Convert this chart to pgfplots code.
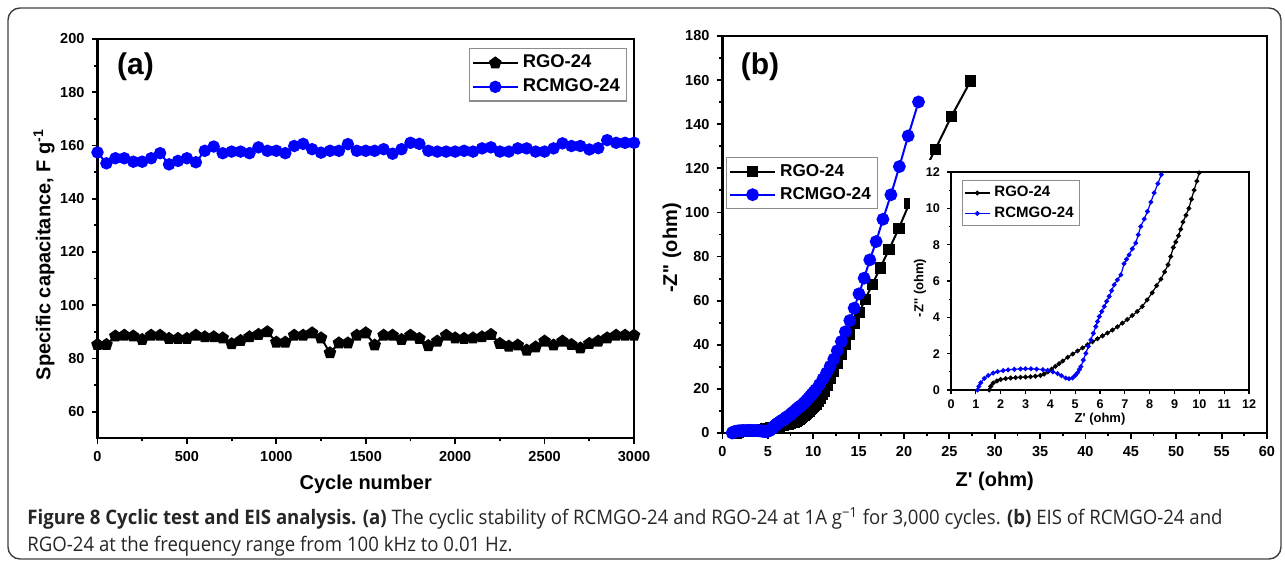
\documentclass[border=0pt]{standalone}
\usepackage{fontspec}
\usepackage{pgfplots}
\pgfplotsset{compat=1.18}
\newfontfamily\arialf{Liberation Sans}[Ligatures=TeXOff]
\newfontfamily\capf{Open Sans}[FakeStretch=0.93]
\definecolor{pblue}{RGB}{0,0,255}
\newcommand\lblfont{\arialf\bfseries\fontsize{10}{12}\selectfont}
\newcommand\inlblfont{\arialf\bfseries\fontsize{6.5}{7.5}\selectfont}
\pgfplotsset{
 orig/.style={
  scale only axis, anchor=south west,
  axis line style={line width=1.1pt},
  tick align=outside, tick pos=left,
  major tick length=3pt, minor tick length=1.6pt,
  every tick/.style={black, line width=0.9pt},
  tick label style={font=\arialf\bfseries\fontsize{7.25}{8}\selectfont},
  /pgf/number format/assume math mode=true,
  /pgf/number format/1000 sep={},
  legend cell align=left,
  legend image code/.code={\draw[mark repeat=2,mark phase=2] plot coordinates {(0pt,0pt) (11.25pt,0pt) (22.5pt,0pt)};},
  legend style={draw=black!45, line width=0.7pt, font=\arialf\bfseries\fontsize{9.2}{10}\selectfont, row sep=0pt, inner sep=1.2pt},
 }
}
\begin{document}
\begin{tikzpicture}
\path[use as bounding box] (0,0) rectangle (642.5pt,281pt);
\draw[black!75, line width=0.7pt, rounded corners=6pt] (4pt,1.5pt) rectangle (640.5pt,277pt);
% ---------------- panel (a)
\begin{axis}[orig, at={(48.75pt,61.85pt)}, width=268.25pt, height=199.65pt,
 xmin=0, xmax=3000, ymin=50, ymax=200,
 xtick={0,500,...,3000}, ytick={60,80,...,200},
 minor x tick num=1, minor y tick num=1,
 xlabel={Cycle number},
 ylabel={Specific capacitance, F g\textsuperscript{-1}},
 every axis x label/.style={at={(axis description cs:0.5,-0.127)}, anchor=base, font=\lblfont},
 every axis y label/.style={at={(axis description cs:-0.0997,0.46)}, rotate=90, anchor=center, font=\lblfont},
 legend style={at={(0.987,0.9775)}, anchor=north east},
]
\addplot[black, line width=1pt, mark=pentagon*, mark size=2.7pt] coordinates {
(0,85.2)(50,85.2)(100,88.4)(150,88.7)(200,88.4)(250,87.1)(300,88.7)(350,88.7)(400,87.5)(450,87.5)
(500,87.5)(550,88.7)(600,88.1)(650,88.1)(700,87.7)(750,85.5)(800,86.7)(850,88.1)(900,89)(950,90)
(1000,86.1)(1050,86.1)(1100,88.7)(1150,88.7)(1200,89.6)(1250,87.7)(1300,82.1)(1350,85.8)(1400,85.8)(1450,88.7)
(1500,89.6)(1550,85)(1600,88.7)(1650,88.7)(1700,87.1)(1750,88.7)(1800,87.5)(1850,84.8)(1900,86.5)(1950,88.7)
(2000,87.7)(2050,87.5)(2100,87.7)(2150,88.1)(2200,89)(2250,85.6)(2300,84.6)(2350,85)(2400,83.1)(2450,84.3)
(2500,86.5)(2550,85)(2600,86.5)(2650,85.2)(2700,83.9)(2750,85.6)(2800,86.5)(2850,87.7)(2900,88.7)(2950,88.7)(3000,88.7)};
\addlegendentry{RGO-24}
\addplot[pblue, line width=1pt, mark=*, mark size=2.6pt] coordinates {
(0,157.4)(50,153.3)(100,155.2)(150,155.2)(200,153.9)(250,153.9)(300,155.2)(350,157.1)(400,152.9)(450,154.2)
(500,155.2)(550,153.7)(600,158)(650,159.6)(700,157.1)(750,157.7)(800,157.7)(850,157.1)(900,159.3)(950,158)
(1000,158)(1050,157.1)(1100,159.8)(1150,160.6)(1200,158.6)(1250,157.3)(1300,158)(1350,158)(1400,160.5)(1450,158)
(1500,158)(1550,158)(1600,158.6)(1650,156.9)(1700,158.6)(1750,161)(1800,160.6)(1850,158)(1900,157.7)(1950,157.7)
(2000,157.7)(2050,158)(2100,157.7)(2150,158.9)(2200,159.3)(2250,157.7)(2300,157.7)(2350,158.9)(2400,158.9)(2450,157.7)
(2500,157.7)(2550,158.9)(2600,160.8)(2650,159.8)(2700,159.8)(2750,158.5)(2800,159)(2850,162)(2900,161)(2950,161)(3000,161)};
\addlegendentry{RCMGO-24}
\end{axis}
\node[font=\arialf\bfseries\fontsize{15}{18}\selectfont] at (67.75pt,247.5pt) {(a)};
% ---------------- panel (b)
\begin{axis}[orig, at={(361.25pt,64.5pt)}, width=272.25pt, height=198.5pt,
 xmin=0, xmax=60, ymin=0, ymax=180,
 xtick={0,5,...,60}, ytick={0,20,...,180},
 minor x tick num=1, minor y tick num=1,
 xlabel={Z\textquotesingle{} (ohm)},
 ylabel={-Z\textquotesingle\textquotesingle{} (ohm)},
 every axis x label/.style={at={(axis description cs:0.5,-0.136)}, anchor=base, font=\lblfont},
 every axis y label/.style={at={(axis description cs:-0.0927,0.466)}, rotate=90, anchor=center, font=\lblfont},
 legend style={at={(0.0064,0.695)}, anchor=north west, font=\arialf\bfseries\fontsize{8.6}{9.5}\selectfont},
]
\addplot[black, line width=1pt, mark=square*, mark size=2.3pt] coordinates {
(1.54,0)(1.6,0.2)(1.7,0.38)(1.85,0.5)(2.0,0.58)(2.2,0.63)(2.4,0.66)(2.6,0.68)(2.8,0.7)(3.0,0.71)(3.2,0.73)(3.4,0.76)(3.6,0.8)(3.75,0.88)(3.9,1.0)(4.05,1.15)(4.2,1.3)(4.35,1.45)(4.5,1.6)(4.7,1.8)(4.9,1.98)(5.1,2.15)(5.3,2.32)(5.5,2.5)(5.7,2.66)(5.9,2.82)(6.1,2.98)(6.3,3.14)(6.5,3.3)(6.7,3.48)(6.9,3.68)(7.1,3.88)(7.3,4.1)(7.5,4.32)(7.7,4.6)(7.9,4.96)(8.1,5.35)(8.28,5.75)(8.45,6.1)(8.6,6.5)(8.74,6.89)(8.85,7.35)(8.95,7.85)(9.05,8.15)(9.16,8.49)(9.25,8.85)(9.34,9.25)(9.46,9.62)(9.58,10.0)(9.68,10.5)(9.79,11.0)(9.9,11.5)(9.99,11.95)
(10.15,12.5)(10.32,13.1)(10.54,14.5)(10.76,15.9)(10.98,17.4)(11.2,18.9)(11.55,21.6)(11.9,24.6)(12.26,27.9)(12.65,31.7)(13.05,35.8)(13.49,40)(13.98,44.5)(14.51,49.5)(15.08,54.7)(15.74,60.7)(16.49,67.2)(17.37,74.8)(18.34,83.1)(19.44,92.9)(20.6,104.2)(21.9,116)(23.46,128.7)(25.22,143.5)(27.34,159.6)};
\addlegendentry{RGO-24}
\addplot[pblue, line width=1pt, mark=*, mark size=2.7pt] coordinates {
(1.07,0)(1.12,0.2)(1.2,0.4)(1.34,0.64)(1.5,0.8)(1.7,0.93)(1.88,1.01)(2.1,1.07)(2.3,1.11)(2.55,1.14)(2.8,1.16)(3.0,1.17)(3.22,1.17)(3.45,1.15)(3.7,1.12)(3.89,1.08)(4.1,1.0)(4.29,0.9)(4.45,0.78)(4.62,0.66)(4.75,0.62)(4.89,0.66)(5.0,0.8)(5.09,0.95)(5.17,1.13)(5.23,1.29)(5.33,1.65)(5.43,2.02)(5.53,2.4)(5.63,2.76)(5.73,3.12)(5.83,3.49)(5.9,3.77)(5.97,4.04)(6.07,4.32)(6.17,4.6)(6.27,4.88)(6.37,5.15)(6.47,5.47)(6.57,5.79)(6.7,6.06)(6.84,6.34)(6.97,6.95)(7.07,7.2)(7.17,7.44)(7.3,7.77)(7.44,8.09)(7.54,8.55)(7.64,9.0)(7.78,9.41)(7.91,9.83)(8.05,10.34)(8.18,10.85)(8.33,11.36)(8.47,11.86)
(8.62,12.3)(8.8,12.9)(8.98,13.6)(9.15,14.3)(9.33,15.1)(9.5,15.9)(9.69,16.8)(9.88,17.7)(10.07,18.6)(10.27,19.6)(10.67,21.9)(11.07,24.5)(11.46,27.2)(11.86,30.2)(12.26,33.5)(12.65,37.3)(13.1,41.5)(13.54,45.9)(14.03,51)(14.51,56.6)(15.04,63.1)(15.61,70.2)(16.23,78.5)(16.93,86.8)(17.68,96.9)(18.56,108)(19.49,120.8)(20.46,134.7)(21.6,150.1)};
\addlegendentry{RCMGO-24}
\end{axis}
\node[font=\arialf\bfseries\fontsize{15}{18}\selectfont] at (380pt,247.5pt) {(b)};
% white area behind the inset
\fill[white] (455pt,75pt) rectangle (631pt,201pt);
% ---------------- inset
\begin{axis}[orig, at={(475.5pt,86pt)}, width=149pt, height=109pt,
 xmin=0, xmax=12, ymin=0, ymax=12,
 xtick={0,1,...,12}, ytick={0,2,...,12}, minor y tick num=1,
 axis line style={line width=0.75pt},
 major tick length=2pt, minor tick length=1.2pt,
 every tick/.style={black, line width=0.6pt},
 tick label style={font=\arialf\bfseries\fontsize{6.3}{7}\selectfont},
 xticklabel style={yshift=0.6pt},
 xlabel={Z\textquotesingle{} (ohm)},
 ylabel={-Z\textquotesingle\textquotesingle{} (ohm)},
 every axis x label/.style={at={(axis description cs:0.5,-0.103)}, anchor=north, font=\inlblfont, inner sep=0pt},
 every axis y label/.style={at={(axis description cs:-0.104,0.468)}, rotate=90, anchor=center, font=\inlblfont},
 legend image code/.code={\draw[mark repeat=2,mark phase=2] plot coordinates {(0pt,0pt) (6.25pt,0pt) (12.5pt,0pt)};},
 legend style={at={(0.037,0.963)}, anchor=north west, font=\arialf\bfseries\fontsize{7.5}{8.2}\selectfont, row sep=-0.5pt, inner sep=0.8pt, line width=0.6pt},
]
\addplot[black, line width=0.6pt, mark=*, mark size=0.9pt] coordinates {
(1.54,0)(1.6,0.2)(1.7,0.38)(1.85,0.5)(2.0,0.58)(2.2,0.63)(2.4,0.66)(2.6,0.68)(2.8,0.7)(3.0,0.71)(3.2,0.73)(3.4,0.76)(3.6,0.8)(3.75,0.88)(3.9,1.0)(4.05,1.15)(4.2,1.3)(4.35,1.45)(4.5,1.6)(4.7,1.8)(4.9,1.98)(5.1,2.15)(5.3,2.32)(5.5,2.5)(5.7,2.66)(5.9,2.82)(6.1,2.98)(6.3,3.14)(6.5,3.3)(6.7,3.48)(6.9,3.68)(7.1,3.88)(7.3,4.1)(7.5,4.32)(7.7,4.6)(7.9,4.96)(8.1,5.35)(8.28,5.75)(8.45,6.1)(8.6,6.5)(8.74,6.89)(8.85,7.35)(8.95,7.85)(9.05,8.15)(9.16,8.49)(9.25,8.85)(9.34,9.25)(9.46,9.62)(9.58,10.0)(9.68,10.5)(9.79,11.0)(9.9,11.5)(9.99,11.95)};
\addlegendentry{RGO-24}
\addplot[pblue, line width=0.6pt, mark=*, mark size=0.9pt] coordinates {
(1.07,0)(1.12,0.2)(1.2,0.4)(1.34,0.64)(1.5,0.8)(1.7,0.93)(1.88,1.01)(2.1,1.07)(2.3,1.11)(2.55,1.14)(2.8,1.16)(3.0,1.17)(3.22,1.17)(3.45,1.15)(3.7,1.12)(3.89,1.08)(4.1,1.0)(4.29,0.9)(4.45,0.78)(4.62,0.66)(4.75,0.62)(4.89,0.66)(5.0,0.8)(5.09,0.95)(5.17,1.13)(5.23,1.29)(5.33,1.65)(5.43,2.02)(5.53,2.4)(5.63,2.76)(5.73,3.12)(5.83,3.49)(5.9,3.77)(5.97,4.04)(6.07,4.32)(6.17,4.6)(6.27,4.88)(6.37,5.15)(6.47,5.47)(6.57,5.79)(6.7,6.06)(6.84,6.34)(6.97,6.95)(7.07,7.2)(7.17,7.44)(7.3,7.77)(7.44,8.09)(7.54,8.55)(7.64,9.0)(7.78,9.41)(7.91,9.83)(8.05,10.34)(8.18,10.85)(8.33,11.36)(8.47,11.86)};
\addlegendentry{RCMGO-24}
\end{axis}
% ---------------- caption
\node[anchor=base west, inner sep=0, font=\capf\fontsize{10}{12}\selectfont, text=black!85] at (13.5pt,18.5pt)
 {\textbf{Figure 8 Cyclic test and EIS analysis. (a)} The cyclic stability of RCMGO-24 and RGO-24 at 1A g\textsuperscript{−1} for 3,000 cycles. \textbf{(b)} EIS of RCMGO-24 and};
\node[anchor=base west, inner sep=0, font=\capf\fontsize{10}{12}\selectfont, text=black!85] at (13.5pt,5pt)
 {RGO-24 at the frequency range from 100 kHz to 0.01 Hz.};
\end{tikzpicture}
\end{document}
